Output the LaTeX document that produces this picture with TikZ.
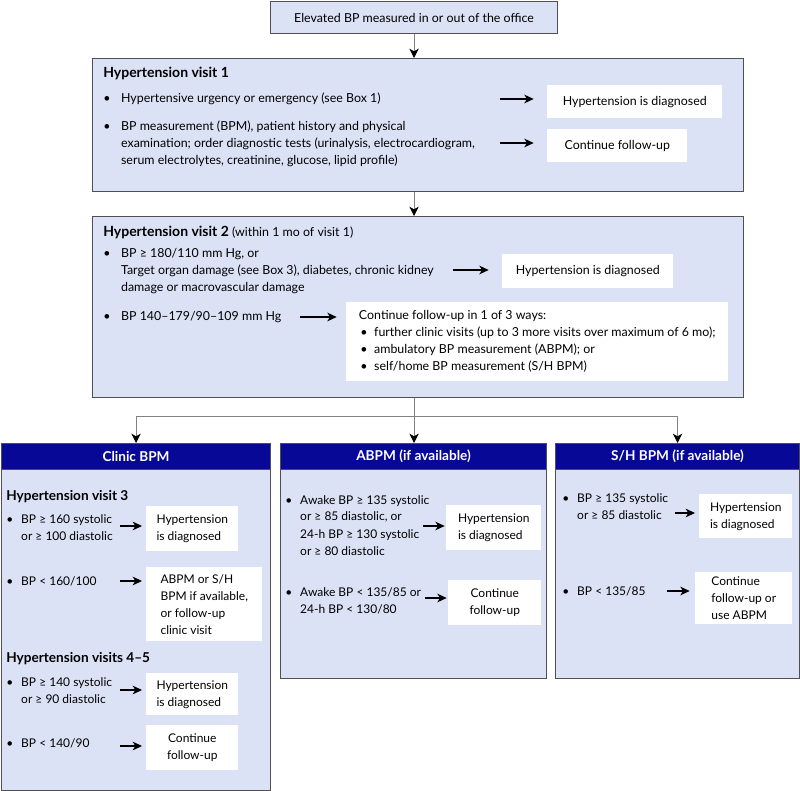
\documentclass[tikz,border=0pt]{standalone}
\usepackage{fontspec}
\setmainfont{Lato}
\usepackage{tikz}
\usetikzlibrary{arrows.meta, positioning, calc}
\definecolor{panelcolor}{RGB}{220, 226, 245}
\definecolor{headcolor}{RGB}{8, 8, 150}
\definecolor{framecolor}{RGB}{80, 80, 80}
\definecolor{linkcolor}{RGB}{130, 130, 130}
\newcommand{\topfont}{\fontsize{9.3}{12.75}\selectfont}
\newcommand{\toptitle}{\fontsize{10.5}{12.75}\selectfont\bfseries}
\newcommand{\lowfont}{\fontsize{9}{12.75}\selectfont}
\newcommand{\lowtitle}{\fontsize{10.2}{12.75}\selectfont\bfseries}
\tikzstyle{panel} = [
    rectangle,
    anchor=north west,
    draw=framecolor,
    line width=0.8pt,
    fill=panelcolor,
    inner sep=0pt
]
\tikzstyle{headbar} = [
    rectangle,
    anchor=north west,
    draw=framecolor,
    line width=0.8pt,
    fill=headcolor,
    text=white,
    font=\lowtitle,
    inner sep=0pt
]
\tikzstyle{resultbox} = [
    rectangle,
    anchor=north west,
    fill=white,
    align=left,
    inner sep=0pt
]
\tikzstyle{itemtext} = [
    anchor=base west,
    inner sep=0pt,
    align=left
]
\tikzstyle{arrow} = [
    ->,
    >={Stealth[length=7pt, width=6.5pt, inset=2pt]},
    line width=0.9pt,
    color=black
]
\tikzstyle{link} = [
    line width=0.7pt,
    color=linkcolor
]
\tikzstyle{downarrow} = [
    link,
    -{Stealth[length=7pt, width=7pt, inset=2pt, color=black]}
]

\begin{document}
\begin{tikzpicture}[x=0.75pt, y=-0.75pt]
\useasboundingbox (0,0) rectangle (800,791);

% Start box
\node[panel, minimum width=215.25pt, minimum height=24pt, font=\topfont] (start) at (270,1) {Elevated BP measured in or out of the office};

% Hypertension visit 1
\node[panel, minimum width=488.25pt, minimum height=99.75pt] (visit1) at (92,58) {};
\node[itemtext, font=\toptitle] (v1title) at (103,78) {Hypertension visit 1};
\node[itemtext, font=\topfont] (v1a) at (103,103) {\begin{tabular}[t]{@{}l@{\hspace{8pt}}l@{}}
    \textbullet & Hypertensive urgency or emergency (see Box 1)\end{tabular}};
\node[itemtext, font=\topfont] (v1b) at (103,131) {\begin{tabular}[t]{@{}l@{\hspace{8pt}}l@{}}
    \textbullet & BP measurement (BPM), patient history and physical\\
    & examination; order diagnostic tests (urinalysis, electrocardiogram,\\
    & serum electrolytes, creatinine, glucose, lipid profile)\end{tabular}};
\node[resultbox, minimum width=131.25pt, minimum height=24.75pt, font=\topfont] (v1dx) at (547,85) {Hypertension is diagnosed};
\node[resultbox, minimum width=105pt, minimum height=24.75pt, font=\topfont] (v1fu) at (547,129) {Continue follow-up};
\coordinate (v1aend) at (500,99);
\coordinate (v1bend) at (500,143);
\draw[arrow] (v1aend) -- (v1aend -| v1dx.west) [shorten >=10pt];
\draw[arrow] (v1bend) -- (v1bend -| v1fu.west) [shorten >=10pt];

% Arrow 1
\draw[downarrow] (start.south) -- (start.south |- visit1.north);

% Hypertension visit 2
\node[panel, minimum width=488.25pt, minimum height=135.75pt] (visit2) at (92,216) {};
\node[itemtext, font=\topfont] (v2title) at (103,237) {{\toptitle Hypertension visit 2} (within 1 mo of visit 1)};
\node[itemtext, font=\topfont] (v2a) at (103,258) {\begin{tabular}[t]{@{}l@{\hspace{8pt}}l@{}}
    \textbullet & BP ≥ 180/110 mm Hg, or\\
    & Target organ damage (see Box 3), diabetes, chronic kidney\\
    & damage or macrovascular damage\end{tabular}};
\node[itemtext, font=\topfont] (v2b) at (103,321) {\begin{tabular}[t]{@{}l@{\hspace{8pt}}l@{}}
    \textbullet & BP 140--179/90--109 mm Hg\end{tabular}};
\node[resultbox, minimum width=128.25pt, minimum height=25.5pt, font=\topfont] (v2dx) at (502,254) {Hypertension is diagnosed};
\node[resultbox, minimum width=286.5pt, minimum height=59.25pt, font=\topfont] (v2fu) at (346,302) {Continue follow-up in 1 of 3 ways:\\
    \hspace*{1pt}\textbullet\hspace{5pt}further clinic visits (up to 3 more visits over maximum of 6 mo);\\
    \hspace*{1pt}\textbullet\hspace{5pt}ambulatory BP measurement (ABPM); or\\
    \hspace*{1pt}\textbullet\hspace{5pt}self/home BP measurement (S/H BPM)};
\coordinate (v2aend) at (453,270);
\coordinate (v2bend) at (300,317);
\draw[arrow] (v2aend) -- (v2aend -| v2dx.west) [shorten >=10pt];
\draw[arrow] (v2bend) -- (v2bend -| v2fu.west) [shorten >=7pt];

% Arrow 2
\draw[downarrow] (start.south |- visit1.south) -- (start.south |- visit2.north);

% Clinic BPM
\node[panel, minimum width=201.75pt, minimum height=260.25pt] (clinic) at (1,443) {};
\node[headbar, minimum width=201.75pt, minimum height=19.5pt] (clinichead) at (1,443) {Clinic BPM};
\node[itemtext, font=\lowtitle] (c3title) at (6,501) {Hypertension visit 3};
\node[itemtext, font=\lowfont] (c3a) at (6,523) {\begin{tabular}[t]{@{}l@{\hspace{6pt}}l@{}}
    \textbullet & BP ≥ 160 systolic\\
    & or ≥ 100 diastolic\end{tabular}};
\node[itemtext, font=\lowfont] (c3b) at (6,585) {\begin{tabular}[t]{@{}l@{\hspace{6pt}}l@{}}
    \textbullet & BP < 160/100\end{tabular}};
\node[resultbox, minimum width=69pt, minimum height=33.75pt, font=\lowfont] (c3dx) at (146,506) {Hypertension\\is diagnosed};
\node[resultbox, minimum width=87pt, minimum height=55.5pt, font=\lowfont] (c3alt) at (146,567) {ABPM or S/H\\BPM if available,\\or follow-up\\clinic visit};
\node[itemtext, font=\lowtitle] (c45title) at (6,662) {Hypertension visits 4--5};
\node[itemtext, font=\lowfont] (c45a) at (6,686) {\begin{tabular}[t]{@{}l@{\hspace{6pt}}l@{}}
    \textbullet & BP ≥ 140 systolic\\
    & or ≥ 90 diastolic\end{tabular}};
\node[itemtext, font=\lowfont] (c45b) at (6,747) {\begin{tabular}[t]{@{}l@{\hspace{6pt}}l@{}}
    \textbullet & BP < 140/90\end{tabular}};
\node[resultbox, minimum width=69pt, minimum height=31.5pt, font=\lowfont] (c45dx) at (146,673) {Hypertension\\is diagnosed};
\node[resultbox, minimum width=69pt, minimum height=33.75pt, font=\lowfont, align=center] (c45fu) at (146,725) {Continue\\follow-up};
\coordinate (c3aend) at (120,526);
\coordinate (c3bend) at (120,581);
\coordinate (c45aend) at (120,690);
\coordinate (c45bend) at (120,746);
\draw[arrow] (c3aend) -- (c3aend -| c3dx.west) [shorten >=3pt];
\draw[arrow] (c3bend) -- (c3bend -| c3alt.west) [shorten >=3pt];
\draw[arrow] (c45aend) -- (c45aend -| c45dx.west) [shorten >=3pt];
\draw[arrow] (c45bend) -- (c45bend -| c45fu.west) [shorten >=3pt];

% ABPM
\node[panel, minimum width=199.5pt, minimum height=176.25pt] (abpm) at (280,443) {};
\node[headbar, minimum width=199.5pt, minimum height=19.5pt] (abpmhead) at (280,443) {ABPM (if available)};
\node[itemtext, font=\lowfont] (aa) at (285,504) {\begin{tabular}[t]{@{}l@{\hspace{6pt}}l@{}}
    \textbullet & Awake BP ≥ 135 systolic\\
    & or ≥ 85 diastolic, or\\
    & 24-h BP ≥ 130 systolic\\
    & or ≥ 80 diastolic\end{tabular}};
\node[itemtext, font=\lowfont] (ab) at (285,596) {\begin{tabular}[t]{@{}l@{\hspace{6pt}}l@{}}
    \textbullet & Awake BP < 135/85 or\\
    & 24-h BP < 130/80\end{tabular}};
\node[resultbox, minimum width=71.25pt, minimum height=33.75pt, font=\lowfont] (adx) at (446,505) {Hypertension\\is diagnosed};
\node[resultbox, minimum width=69.75pt, minimum height=33.75pt, font=\lowfont, align=center] (afu) at (448,580) {Continue\\follow-up};
\coordinate (aaend) at (423,526);
\coordinate (abend) at (425,598);
\draw[arrow] (aaend) -- (aaend -| adx.west) [shorten >=1pt];
\draw[arrow] (abend) -- (abend -| afu.west) [shorten >=1pt];

% S/H BPM
\node[panel, minimum width=183pt, minimum height=176.25pt] (shbpm) at (555,443) {};
\node[headbar, minimum width=183pt, minimum height=19.5pt] (shhead) at (555,443) {S/H BPM (if available)};
\node[itemtext, font=\lowfont] (sa) at (562,503) {\begin{tabular}[t]{@{}l@{\hspace{6pt}}l@{}}
    \textbullet & BP ≥ 135 systolic\\
    & or ≥ 85 diastolic\end{tabular}};
\node[itemtext, font=\lowfont] (sb) at (562,595) {\begin{tabular}[t]{@{}l@{\hspace{6pt}}l@{}}
    \textbullet & BP < 135/85\end{tabular}};
\node[resultbox, minimum width=69.75pt, minimum height=33pt, font=\lowfont] (sdx) at (699,494) {Hypertension\\is diagnosed};
\node[resultbox, minimum width=72.75pt, minimum height=39pt, font=\lowfont] (sfu) at (695,572) {Continue\\follow-up or\\use ABPM};
\coordinate (saend) at (675,513);
\coordinate (sbend) at (667,591);
\draw[arrow] (saend) -- (saend -| sdx.west) [shorten >=3pt];
\draw[arrow] (sbend) -- (sbend -| sfu.west) [shorten >=4pt];

% Split to the three ways
\coordinate (split) at ($(start.south |- abpmhead.north) + (0,-27)$);
\draw[link] (start.south |- visit2.south) -- (split);
\draw[link] (split -| clinichead.north) -- (split -| shhead.north);
\draw[downarrow] (split -| clinichead.north) -- (clinichead.north);
\draw[downarrow] (split) -- (split |- abpmhead.north);
\draw[downarrow] (split -| shhead.north) -- (shhead.north);

\end{tikzpicture}
\end{document}
